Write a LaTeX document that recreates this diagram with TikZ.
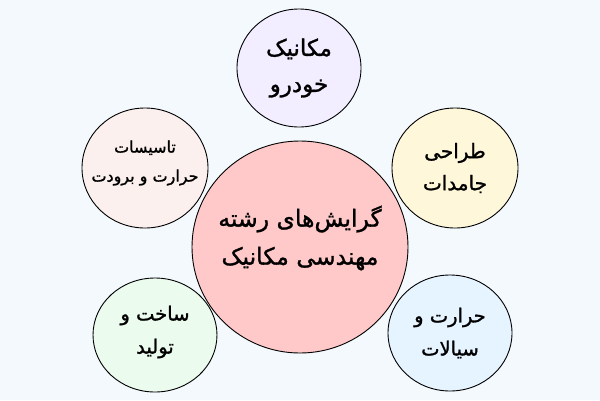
\documentclass[tikz,border=0pt]{standalone}
\usepackage{fontspec}
\usetikzlibrary{shapes.geometric}
\TeXXeTstate=1
\newfontfamily\arabicfont[Script=Arabic,FakeBold=1.2,AutoFakeBold=1.2]{DejaVu Sans}
\definecolor{bgc}{HTML}{F4F9FE}
\definecolor{cmain}{HTML}{FFC9C9}
\definecolor{ctop}{HTML}{F2EEFF}
\definecolor{ctl}{HTML}{FBF0EE}
\definecolor{ctr}{HTML}{FFF7D9}
\definecolor{cbl}{HTML}{EBFBEE}
\definecolor{cbr}{HTML}{E6F4FF}
\tikzset{
  bubble/.style={ellipse, draw=black, line width=0.9pt, inner sep=0pt,
    minimum width=124pt, minimum height=118pt},
  hub/.style={bubble, minimum width=216pt, minimum height=212pt},
  lbl/.style={align=center, inner sep=0pt, font=\arabicfont\fontsize{20}{33}\selectfont},
}
\begin{document}
\begin{tikzpicture}[x=1pt,y=-1pt]
\fill[bgc] (0,0) rectangle (600,400);
\useasboundingbox (0,0) rectangle (600,400);
\node[hub, fill=cmain] (main) at (300,247) {};
\node[bubble, fill=ctop] (top) at (299,68) {};
\node[bubble, fill=ctl, minimum width=126pt, minimum height=120pt] (tl) at (145,168) {};
\node[bubble, fill=ctr, minimum width=126pt, minimum height=120pt] (tr) at (455,168) {};
\node[bubble, fill=cbl, minimum height=114pt] (bl) at (155,335) {};
\node[bubble, fill=cbr, minimum height=116pt] (br) at (450,333) {};
\node[lbl, font=\arabicfont\fontsize{23.5}{38}\selectfont] (mainT) at ([yshift=9pt]main.center) {\beginR گرایش‌های رشته\endR\\\beginR مهندسی مکانیک\endR};
\node[lbl, font=\arabicfont\fontsize{23}{36}\selectfont] (topT) at (top.center) {\beginR مکانیک\endR\\\beginR خودرو\endR};
\node[lbl, font=\arabicfont\fontsize{16}{29}\selectfont] (tlT) at ([yshift=5pt]tl.center) {\beginR تاسیسات\endR\\\beginR حرارت و برودت\endR};
\node[lbl, font=\arabicfont\fontsize{20}{32}\selectfont] (trT) at (tr.center) {\beginR طراحی\endR\\\beginR جامدات\endR};
\node[lbl, font=\arabicfont\fontsize{19.5}{33}\selectfont] (blT) at ([yshift=3pt]bl.center) {\beginR ساخت و\endR\\\beginR تولید\endR};
\node[lbl, font=\arabicfont\fontsize{19.5}{33}\selectfont] (brT) at (br.center) {\beginR حرارت و\endR\\\beginR سیالات\endR};
\end{tikzpicture}
\end{document}
